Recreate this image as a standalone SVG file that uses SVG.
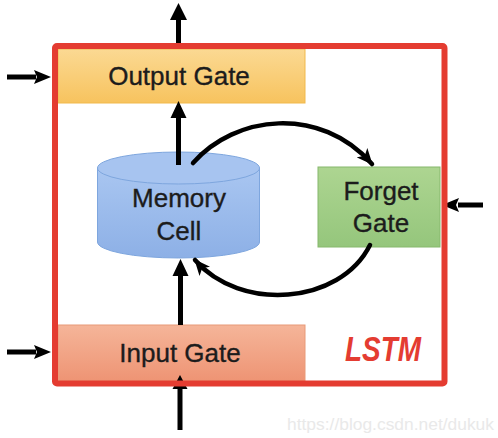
<svg xmlns="http://www.w3.org/2000/svg" width="498" height="438" viewBox="0 0 498 438">
  <style>
    .lbl { font-family: "Liberation Sans", Arial, sans-serif; font-size: 26px; fill: #1c1c1c; stroke: #1c1c1c; stroke-width: 0.35; text-anchor: middle; }
    .wire { fill: none; stroke: #000; stroke-width: 5; }
    .curve { fill: none; stroke: #000; stroke-width: 4.5; stroke-linecap: round; }
    .head { fill: #000; }
    .frame { fill: none; stroke: #e43c31; stroke-width: 6; }
  </style>
  <defs>
    <linearGradient id="gOut" x1="0" y1="0" x2="0" y2="1">
      <stop offset="0" stop-color="#fbd993"/>
      <stop offset="1" stop-color="#f7c35e"/>
    </linearGradient>
    <linearGradient id="gIn" x1="0" y1="0" x2="0" y2="1">
      <stop offset="0" stop-color="#f5b599"/>
      <stop offset="1" stop-color="#ee9474"/>
    </linearGradient>
    <linearGradient id="gMem" x1="0" y1="0" x2="0" y2="1">
      <stop offset="0" stop-color="#a9c6f1"/>
      <stop offset="1" stop-color="#8db0e6"/>
    </linearGradient>
    <linearGradient id="gFor" x1="0" y1="0" x2="0" y2="1">
      <stop offset="0" stop-color="#add591"/>
      <stop offset="1" stop-color="#95c67c"/>
    </linearGradient>
    <marker id="arr" viewBox="0 0 16 14" refX="15" refY="7" markerWidth="16" markerHeight="14" markerUnits="userSpaceOnUse" orient="auto">
      <path d="M0,0 L16,7 L0,14 L4,7 Z" fill="#000"/>
    </marker>
  </defs>

  <g id="output-gate">
    <rect x="58" y="49" width="247" height="54" fill="url(#gOut)" stroke="#f1b94c" stroke-width="1"/>
    <text class="lbl" x="179" y="85">Output Gate</text>
  </g>

  <g id="input-gate">
    <rect x="58" y="325" width="247" height="56" fill="url(#gIn)" stroke="#e89a78" stroke-width="1"/>
    <text class="lbl" x="180" y="362">Input Gate</text>
  </g>

  <g id="memory-cell">
    <path d="M97.5,168 L97.5,242 A81,16 0 0 0 259.5,242 L259.5,168 Z" fill="url(#gMem)" stroke="#7ea6de" stroke-width="1"/>
    <ellipse cx="178.5" cy="168" rx="81" ry="16" fill="#a7c4f0" stroke="#7ea6de" stroke-width="1"/>
    <text class="lbl" x="179" y="207">Memory</text>
    <text class="lbl" x="179" y="240">Cell</text>
  </g>

  <g id="forget-gate">
    <rect x="318" y="167" width="122" height="80" fill="url(#gFor)" stroke="#86b86c" stroke-width="1"/>
    <text class="lbl" x="381" y="200">Forget</text>
    <text class="lbl" x="381" y="232">Gate</text>
  </g>

  <g id="connectors">
    <line class="wire" x1="178.5" y1="44" x2="178.5" y2="18"/>
    <polygon class="head" points="178.5,3 170,20 187,20"/>
    <line class="wire" x1="7" y1="77" x2="36" y2="77"/>
    <polygon class="head" points="51,77 34,70 37,77 34,84"/>
    <line class="wire" x1="178.5" y1="165" x2="178.5" y2="117"/>
    <polygon class="head" points="178.5,101 170.5,118 186.5,118"/>
    <path class="curve" d="M193,163 C235,115 320,105 372,164" marker-end="url(#arr)"/>
    <path class="curve" d="M370,245 C340,305 240,312 195,260" marker-end="url(#arr)"/>
    <line class="wire" x1="483" y1="205" x2="458" y2="205"/>
    <polygon class="head" points="442,205 459,198 456,205 459,212"/>
    <line class="wire" x1="180.5" y1="325" x2="180.5" y2="274"/>
    <polygon class="head" points="180.5,259 172.5,276 188.5,276"/>
    <line class="wire" x1="7" y1="352" x2="36" y2="352"/>
    <polygon class="head" points="51,352 34,345 37,352 34,359"/>
    <line class="wire" x1="180" y1="430" x2="180" y2="387"/>
    <polygon class="head" points="180,375 172.5,389 187.5,389"/>
  </g>

  <g id="lstm-frame">
    <rect class="frame" x="55" y="46" width="389.5" height="337.5" rx="2"/>
    <text x="383" y="361" font-family="'Liberation Sans', Arial, sans-serif" font-size="35" font-weight="bold" font-style="italic" fill="#e43c31" text-anchor="middle" textLength="76" lengthAdjust="spacingAndGlyphs">LSTM</text>
  </g>

  <text x="287" y="430" font-family="'Liberation Sans', Arial, sans-serif" font-size="17" fill="#e9e9e9" textLength="207" lengthAdjust="spacingAndGlyphs">https://blog.csdn.net/dukuk</text>
</svg>
